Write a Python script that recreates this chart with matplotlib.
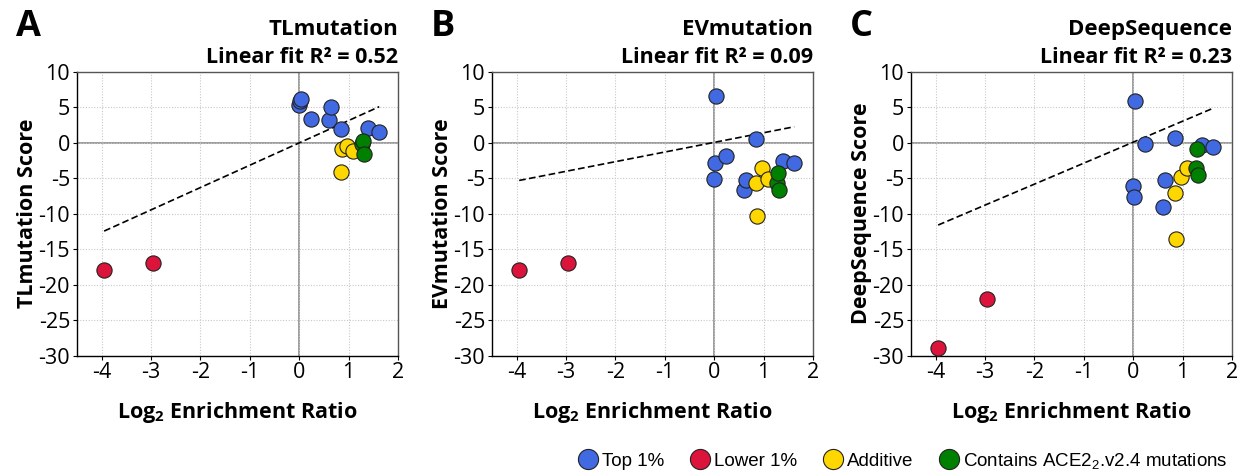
import numpy as np
import matplotlib
matplotlib.use("Agg")
import matplotlib.pyplot as plt
from matplotlib.lines import Line2D

plt.rcParams['font.family'] = ['Open Sans', 'DejaVu Sans']
plt.rcParams['axes.unicode_minus'] = False
plt.rcParams['mathtext.default'] = 'regular'

# log2 enrichment ratio per group
x_top = [0.0, 0.01, 0.03, 0.24, 0.6, 0.65, 0.84, 1.4, 1.61]
x_low = [-3.95, -2.96]
x_add = [0.84, 0.86, 0.97, 1.08]
x_ace = [1.27, 1.29, 1.31]

methods = ["TLmutation", "EVmutation", "DeepSequence"]
letters = ["A", "B", "C"]
r2 = ["0.52", "0.09", "0.23"]

top_scores = {
    "TLmutation": [5.4, 5.9, 6.2, 3.4, 3.2, 5.1, 1.9, 2.1, 1.6],
    "EVmutation": [-5.1, -2.8, 6.6, -1.9, -6.7, -5.3, 0.5, -2.5, -2.8],
    "DeepSequence": [-6.1, -7.6, 5.9, -0.1, -9.1, -5.2, 0.7, -0.35, -0.6],
}
low_scores = {
    "TLmutation": [-18.0, -17.0],
    "EVmutation": [-17.9, -16.9],
    "DeepSequence": [-28.9, -22.0],
}
add_scores = {
    "TLmutation": [-4.1, -0.9, -0.4, -1.1],
    "EVmutation": [-5.6, -10.3, -3.5, -5.1],
    "DeepSequence": [-7.1, -13.6, -4.8, -3.6],
}
ace_scores = {
    "TLmutation": [-0.1, 0.2, -1.5],
    "EVmutation": [-5.6, -4.3, -6.7],
    "DeepSequence": [-3.6, -0.8, -4.6],
}
# linear fit (slope, intercept) as drawn in the figure
fit_slope = {"TLmutation": 3.15, "EVmutation": 1.36, "DeepSequence": 2.96}
fit_icpt = {"TLmutation": 0.0, "EVmutation": 0.07, "DeepSequence": 0.1}
fit_range = [-3.95, 1.62]

c_top = "#4169e1"
c_low = "#dc143c"
c_add = "#ffd700"
c_ace = "#008000"

fig = plt.figure(figsize=(12.42, 4.76), dpi=100)
lefts = [77, 492, 911]
W, H = 1242, 476

for i, m in enumerate(methods):
    ax = fig.add_axes([lefts[i] / W, 1 - 355.5 / H, 321 / W, 283.5 / H])
    ax.set_xlim(-4.5, 2)
    ax.set_ylim(-30, 10)
    ax.set_xticks(np.arange(-4, 3, 1))
    ax.set_yticks(np.arange(-30, 11, 5))
    ax.grid(True, ls=(0, (1, 1.5)), color="#c8c8c8", lw=0.8)
    ax.axhline(0, color="#8c8c8c", lw=1.2, zorder=1)
    ax.axvline(0, color="#8c8c8c", lw=1.2, zorder=1)
    for s in ["top", "right"]:
        ax.spines[s].set_color("#555555")
        ax.spines[s].set_linewidth(1.0)
    for s in ["left", "bottom"]:
        ax.spines[s].set_color("black")
        ax.spines[s].set_linewidth(1.0)
    ax.tick_params(direction="out", length=3, width=0.8, pad=2, labelsize=15.5)

    fx = np.array(fit_range)
    ax.plot(fx, fit_slope[m] * fx + fit_icpt[m], ls=(0, (4, 2)), color="black", lw=1.2, zorder=2)

    kw = dict(s=120, edgecolors="#222222", linewidths=0.8, zorder=3)
    ax.scatter(x_top, top_scores[m], color=c_top, **kw)
    ax.scatter(x_low, low_scores[m], color=c_low, **kw)
    ax.scatter(x_add, add_scores[m], color=c_add, **kw)
    ax.scatter(x_ace, ace_scores[m], color=c_ace, **kw)

    ax.set_xlabel("Log$_2$ Enrichment Ratio", fontsize=15.5, fontweight="bold", labelpad=12)
    ax.set_ylabel(m + " Score", fontsize=15.5, fontweight="bold", labelpad=0)

    ax.text(1.0, 1.0 + 9 / 283.5, "Linear fit R² = " + r2[i], transform=ax.transAxes,
            ha="right", va="baseline", fontsize=15.5, fontweight="bold")
    ax.text(1.0, 1.0 + 37 / 283.5, m, transform=ax.transAxes,
            ha="right", va="baseline", fontsize=16, fontweight="bold")
    fig.text((lefts[i] - 61) / W, 1 - 36 / H, letters[i], fontsize=26, fontweight="bold",
             ha="left", va="baseline")

labels = ["Top 1%", "Lower 1%", "Additive", "Contains ACE2$_2$.v2.4 mutations"]
colors = [c_top, c_low, c_add, c_ace]
handles = [Line2D([], [], ls="", marker="o", markersize=14.5, markerfacecolor=c,
                  markeredgecolor="#222222", markeredgewidth=0.8) for c in colors]
fig.legend(handles, labels, loc="center", bbox_to_anchor=(902 / W, 1 - 461 / H), ncol=4,
           frameon=False, handletextpad=0.15, columnspacing=1.3, handlelength=1.2,
           prop={"family": ["Liberation Sans", "DejaVu Sans"], "size": 13.5})

fig.savefig("out.png", dpi=100)
